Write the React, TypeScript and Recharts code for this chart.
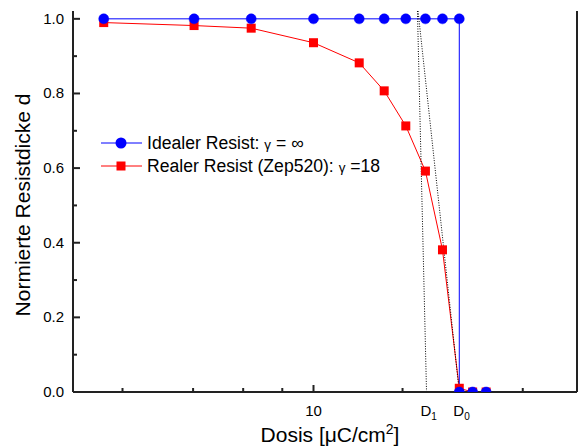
import React from 'react';
import { LineChart, Line, XAxis, YAxis, Legend, ReferenceLine } from 'recharts';

// ---- data ----
const idealDose = [2.0, 4.0, 6.2, 10, 14.2, 17.2, 20.3, 23.6, 26.9, 30.6, 30.6, 33.9, 37.6];
const idealThickness = [1, 1, 1, 1, 1, 1, 1, 1, 1, 1, 0, 0, 0];
const realDose = [2.0, 4.0, 6.2, 10, 14.2, 17.2, 20.3, 23.6, 26.9, 30.6, 33.9, 37.6];
const realThickness = [0.99, 0.982, 0.975, 0.936, 0.882, 0.807, 0.713, 0.592, 0.381, 0.01, 0, 0];
const d1LineDose = [22.2, 23.8];
const d1LineThickness = [1.021, 0];
const tangentDose = [22.3, 30.6];
const tangentThickness = [1.021, 0];

const xTicks = [2.31, 3.97, 5.83, 7.87, 10, 19.8, 49.8];
const xLabelled = [10];
const doseMarkValues = [23.8, 30.6];
const doseMarkSubs = ['1', '0'];
const yTicks = [0, 0.1, 0.2, 0.3, 0.4, 0.5, 0.6, 0.7, 0.8, 0.9, 1.0];
const yLabelled = [0, 0.2, 0.4, 0.6, 0.8, 1.0];
const xDomain = [1.58, 75.5];
const yDomain = [0, 1.021];

const idealData = idealDose.map((x, i) => ({ dose: x, d: idealThickness[i] }));
const realData = realDose.map((x, i) => ({ dose: x, d: realThickness[i] }));
const d1Data = d1LineDose.map((x, i) => ({ dose: x, d: d1LineThickness[i] }));
const tangentData = tangentDose.map((x, i) => ({ dose: x, d: tangentThickness[i] }));

const FONT = '"Liberation Sans", Arial, Helvetica, sans-serif';
const AX = '#222';
const BLUE = '#0000ff';
const RED = '#ff0000';

const near = (a: number, b: number) => Math.abs(a - b) < 1e-6;

const BottomTick = (props: any) => {
  const { x, y, payload } = props;
  const v = payload.value;
  const markIdx = doseMarkValues.findIndex((m) => near(m, v));
  if (markIdx >= 0) {
    return (
      <text x={x - 6} y={y + 24} fontFamily={FONT} fontSize={15} fill="#000">
        D
        <tspan fontSize={10} dy={4}>{doseMarkSubs[markIdx]}</tspan>
      </text>
    );
  }
  const major = xLabelled.some((m) => near(m, v));
  return (
    <g>
      <line x1={x} x2={x} y1={y} y2={y - (major ? 7 : 4)} stroke={AX} strokeWidth={2} />
      {major && (
        <text x={x} y={y + 24} textAnchor="middle" fontFamily={FONT} fontSize={15} fill="#000">
          {v}
        </text>
      )}
    </g>
  );
};

const TopTick = (props: any) => {
  const { x, y, payload } = props;
  const major = xLabelled.some((m) => near(m, payload.value));
  return <line x1={x} x2={x} y1={y} y2={y + (major ? 7 : 4)} stroke={AX} strokeWidth={2} />;
};

const LeftTick = (props: any) => {
  const { x, y, payload } = props;
  const v = payload.value;
  const major = yLabelled.some((m) => near(m, v));
  return (
    <g>
      <line x1={x} x2={x + (major ? 7 : 4)} y1={y} y2={y} stroke={AX} strokeWidth={2} />
      {major && (
        <text x={x - 9} y={y + 5} textAnchor="end" fontFamily={FONT} fontSize={15} fill="#000">
          {v.toFixed(1)}
        </text>
      )}
    </g>
  );
};

const Square = (props: any) => {
  const { cx, cy, index } = props;
  if (cx == null || cy == null) return <g key={`s${index}`} />;
  return <rect key={`s${index}`} x={cx - 4.5} y={cy - 4.5} width={9} height={9} fill={RED} />;
};

const LegendBox = () => (
  <svg width={340} height={50} style={{ display: 'block', overflow: 'visible' }}>
    <line x1={5} x2={46} y1={13} y2={13} stroke={BLUE} strokeWidth={1} />
    <circle cx={25} cy={13} r={5.5} fill={BLUE} />
    <text x={51} y={19} fontFamily={FONT} fontSize={17.6} fill="#000">
      Idealer Resist: <tspan fontSize={13.5}>γ</tspan> = ∞
    </text>
    <line x1={5} x2={46} y1={36} y2={36} stroke={RED} strokeWidth={1} />
    <rect x={20.5} y={31.5} width={9} height={9} fill={RED} />
    <text x={51} y={42} fontFamily={FONT} fontSize={17.6} fill="#000">
      Realer Resist (Zep520): <tspan fontSize={13.5}>γ</tspan> =18
    </text>
  </svg>
);

export default function App() {
  return (
    <div style={{ position: 'absolute', left: 0, top: 0, width: 583, height: 447, background: '#fff' }}>
      <LineChart width={583} height={447} margin={{ top: 11, right: 6, bottom: 25, left: 0 }}>
        <XAxis
          dataKey="dose"
          type="number"
          scale="log"
          domain={xDomain}
          allowDataOverflow
          ticks={[...xTicks, ...doseMarkValues]}
          interval={0}
          tickSize={0}
          tickMargin={0}
          tickLine={false}
          tick={<BottomTick />}
          axisLine={{ stroke: AX, strokeWidth: 2 }}
          height={30}
        />
        <XAxis
          xAxisId="top"
          orientation="top"
          dataKey="dose"
          type="number"
          scale="log"
          domain={xDomain}
          allowDataOverflow
          ticks={xTicks}
          interval={0}
          tickSize={0}
          tickMargin={0}
          tickLine={false}
          tick={<TopTick />}
          axisLine={{ stroke: AX, strokeWidth: 2 }}
          height={0}
        />
        <YAxis
          dataKey="d"
          type="number"
          domain={yDomain}
          allowDataOverflow
          ticks={yTicks}
          interval={0}
          tickSize={0}
          tickMargin={0}
          tickLine={false}
          tick={<LeftTick />}
          axisLine={{ stroke: AX, strokeWidth: 2 }}
          width={73}
        />
        <ReferenceLine x={xDomain[1]} stroke={AX} strokeWidth={2} />
        <Line
          data={realData}
          dataKey="d"
          stroke={RED}
          strokeWidth={1}
          dot={Square}
          activeDot={false}
          isAnimationActive={false}
          name="real"
        />
        <Line
          data={idealData}
          dataKey="d"
          stroke={BLUE}
          strokeWidth={1}
          dot={{ r: 5, fill: BLUE, stroke: BLUE, strokeWidth: 0.5 }}
          activeDot={false}
          isAnimationActive={false}
          name="ideal"
        />
        <Line
          data={d1Data}
          dataKey="d"
          stroke="#000"
          strokeWidth={1}
          strokeDasharray="1 1.5"
          dot={false}
          activeDot={false}
          isAnimationActive={false}
          name="d1"
        />
        <Line
          data={tangentData}
          dataKey="d"
          stroke="#000"
          strokeWidth={1}
          strokeDasharray="1 1.5"
          dot={false}
          activeDot={false}
          isAnimationActive={false}
          name="tangent"
        />
        <Legend
          layout="vertical"
          align="center"
          verticalAlign="middle"
          wrapperStyle={{ position: 'absolute', left: 96, top: 130, width: 340, height: 50 }}
          content={() => <LegendBox />}
        />
      </LineChart>
      <svg width={583} height={447} style={{ position: 'absolute', left: 0, top: 0, pointerEvents: 'none' }}>
        <text
          x={30}
          y={205}
          transform="rotate(-90 30 205)"
          textAnchor="middle"
          fontFamily={FONT}
          fontSize={21}
          fill="#000"
        >
          Normierte Resistdicke d
        </text>
        <text x={330} y={442} textAnchor="middle" fontFamily={FONT} fontSize={21} fill="#000">
          Dosis [μC/cm<tspan fontSize={14} dy={-8}>2</tspan>
          <tspan dy={8}>]</tspan>
        </text>
      </svg>
    </div>
  );
}
